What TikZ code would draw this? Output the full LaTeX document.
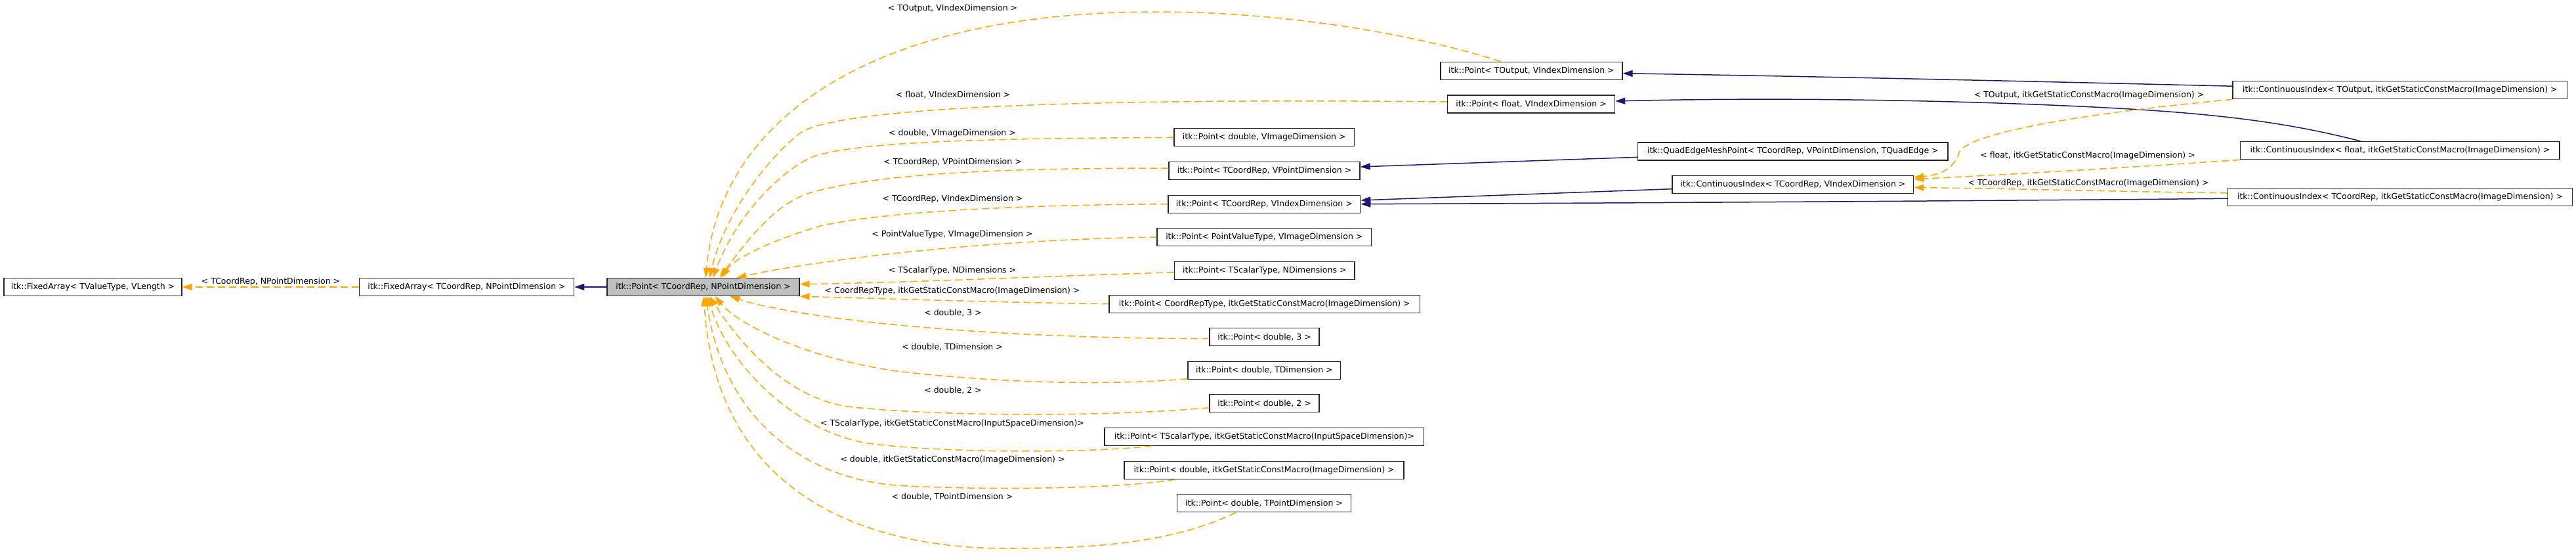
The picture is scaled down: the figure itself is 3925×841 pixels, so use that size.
\documentclass[tikz,border=0pt]{standalone}
\usepackage{fontspec}
\setmainfont{DejaVu Sans}
\usetikzlibrary{arrows.meta}
\definecolor{dorange}{HTML}{FFA500}
\definecolor{dnavy}{HTML}{191970}
\definecolor{mainfill}{HTML}{BFBFBF}
\begin{document}
\begin{tikzpicture}[x=1pt,y=-1pt,
  cls/.style={draw=black!85, line width=1.3pt, fill=white, minimum height=27pt, inner sep=0pt, font=\fontsize{12.5}{15}\selectfont},
  lbl/.style={inner sep=0pt, font=\fontsize{12.5}{15}\selectfont},
  dep/.style={draw=dorange, line width=1.5pt, dash pattern=on 11pt off 6pt, -{Triangle[length=15pt,width=10pt]}},
  inh/.style={draw=dnavy, line width=1.5pt, -{Triangle[length=15pt,width=10pt]}}]
\useasboundingbox (0,0) rectangle (3925,841);
% nodes
\node[cls, minimum width=271pt] (fa1) at (141.5,437) {itk::FixedArray< TValueType, VLength >};
\node[cls, minimum width=327.5pt] (fa2) at (711,437) {itk::FixedArray< TCoordRep, NPointDimension >};
\node[cls, fill=mainfill, minimum width=293pt] (main) at (1071.5,437) {itk::Point< TCoordRep, NPointDimension >};
\node[cls, minimum width=277pt] (pTOut) at (2333.4,107.7) {itk::Point< TOutput, VIndexDimension >};
\node[cls, minimum width=255pt] (pFloat) at (2333,158.5) {itk::Point< float, VIndexDimension >};
\node[cls, minimum width=274.5pt] (pDblImg) at (1926.2,209.2) {itk::Point< double, VImageDimension >};
\node[cls, minimum width=291pt] (pCRPoint) at (1926.5,260) {itk::Point< TCoordRep, VPointDimension >};
\node[cls, minimum width=292.7pt] (pCRIndex) at (1926.3,310.7) {itk::Point< TCoordRep, VIndexDimension >};
\node[cls, minimum width=326.5pt] (pPVT) at (1926.3,361) {itk::Point< PointValueType, VImageDimension >};
\node[cls, minimum width=274.4pt] (pTSN) at (1926.8,411.8) {itk::Point< TScalarType, NDimensions >};
\node[cls, minimum width=473.5pt] (pCRT) at (1926.7,462.7) {itk::Point< CoordRepType, itkGetStaticConstMacro(ImageDimension) >};
\node[cls, minimum width=167pt] (pD3) at (1926.5,513.2) {itk::Point< double, 3 >};
\node[cls, minimum width=232.8pt] (pDTD) at (1926.4,563.7) {itk::Point< double, TDimension >};
\node[cls, minimum width=167pt] (pD2) at (1926.5,614.3) {itk::Point< double, 2 >};
\node[cls, minimum width=486.8pt] (pTSI) at (1926.4,665) {itk::Point< TScalarType, itkGetStaticConstMacro(InputSpaceDimension)>};
\node[cls, minimum width=426pt] (pDID) at (1926,716) {itk::Point< double, itkGetStaticConstMacro(ImageDimension) >};
\node[cls, minimum width=264.5pt] (pDTP) at (1926,766.3) {itk::Point< double, TPointDimension >};
\node[cls, minimum width=472.5pt] (qe) at (2731.8,230.5) {itk::QuadEdgeMeshPoint< TCoordRep, VPointDimension, TQuadEdge >};
\node[cls, minimum width=367.7pt] (ciCRIdx) at (2731.9,281) {itk::ContinuousIndex< TCoordRep, VIndexDimension >};
\node[cls, minimum width=509.8pt] (ciTOut) at (3656.9,137.2) {itk::ContinuousIndex< TOutput, itkGetStaticConstMacro(ImageDimension) >};
\node[cls, minimum width=486.3pt] (ciFloat) at (3656.9,229.2) {itk::ContinuousIndex< float, itkGetStaticConstMacro(ImageDimension) >};
\node[cls, minimum width=525pt] (ciCR) at (3657,299.7) {itk::ContinuousIndex< TCoordRep, itkGetStaticConstMacro(ImageDimension) >};
% labels
\node[lbl] (l0) at (412.5,429) {< TCoordRep, NPointDimension >};
\node[lbl] (l1) at (1451.5,13) {< TOutput, VIndexDimension >};
\node[lbl] (l2) at (1452,144) {< float, VIndexDimension >};
\node[lbl] (l3) at (1451,203) {< double, VImageDimension >};
\node[lbl] (l4) at (1451.5,247) {< TCoordRep, VPointDimension >};
\node[lbl] (l5) at (1451.5,303) {< TCoordRep, VIndexDimension >};
\node[lbl] (l6) at (1451,357) {< PointValueType, VImageDimension >};
\node[lbl] (l7) at (1451,412) {< TScalarType, NDimensions >};
\node[lbl] (l8) at (1451,443) {< CoordRepType, itkGetStaticConstMacro(ImageDimension) >};
\node[lbl] (l9) at (1452,476) {< double, 3 >};
\node[lbl] (l10) at (1451,528) {< double, TDimension >};
\node[lbl] (l11) at (1452,594) {< double, 2 >};
\node[lbl] (l12) at (1451,645) {< TScalarType, itkGetStaticConstMacro(InputSpaceDimension)>};
\node[lbl] (l13) at (1451.5,700) {< double, itkGetStaticConstMacro(ImageDimension) >};
\node[lbl] (l14) at (1451,756) {< double, TPointDimension >};
\node[lbl] (lr1) at (3183,145) {< TOutput, itkGetStaticConstMacro(ImageDimension) >};
\node[lbl] (lr2) at (3181,237) {< float, itkGetStaticConstMacro(ImageDimension) >};
\node[lbl] (lr3) at (3182,279) {< TCoordRep, itkGetStaticConstMacro(ImageDimension) >};
% left edges
\draw[inh] (main.west) -- (fa2.east);
\draw[dep] (fa2.west) -- (fa1.east);
% edges into main
\draw[dep] ([xshift=92pt]pTOut.north west) .. controls (2150,50) and (1950,18) .. (1763,18) .. controls (1300,18) and (1095,200) .. ([xshift=151pt]main.north west);
\draw[dep] ([yshift=3.5pt]pFloat.west) .. controls (1700,150) and (1300,160) .. (1223,200) .. controls (1180,230) and (1105,320) .. ([xshift=157pt]main.north west);
\draw[dep] (pDblImg.west) .. controls (1500,211) and (1320,215) .. (1243,237) .. controls (1200,252) and (1125,320) .. ([xshift=162pt]main.north west);
\draw[dep] ([yshift=4pt]pCRPoint.west) .. controls (1550,256) and (1350,262) .. (1240,292) .. controls (1190,305) and (1150,350) .. ([xshift=172pt]main.north west);
\draw[dep] (pCRIndex.west) .. controls (1550,312) and (1350,322) .. (1250,344) .. controls (1195,360) and (1120,390) .. ([xshift=176pt]main.north west);
\draw[dep] (pPVT.west) .. controls (1500,365) and (1250,395) .. ([xshift=198pt]main.north west);
\draw[dep] ([yshift=-3pt]pTSN.west) .. controls (1600,420) and (1400,430) .. ([yshift=4.3pt]main.east);
\draw[dep] (pCRT.west) .. controls (1550,461) and (1350,455) .. (main.south east);
\draw[dep] ([yshift=-2.5pt]pD3.west) .. controls (1450,515) and (1200,480) .. ([xshift=188pt]main.south west);
\draw[dep] ([yshift=1pt]pDTD.south west) .. controls (1700,586) and (1550,585) .. (1383,567) .. controls (1250,552) and (1130,500) .. ([xshift=165pt]main.south west);
\draw[dep] ([yshift=-6.4pt]pD2.west) .. controls (1700,634) and (1450,635) .. (1300,620) .. controls (1200,610) and (1125,520) .. ([xshift=157pt]main.south west);
\draw[dep] ([xshift=73pt]pTSI.south west) .. controls (1650,690) and (1450,690) .. (1330,676) .. controls (1220,663) and (1110,560) .. ([xshift=154pt]main.south west);
\draw[dep] ([xshift=78pt]pDID.south west) .. controls (1700,745) and (1500,746) .. (1383,740) .. controls (1240,735) and (1105,650) .. ([xshift=151pt]main.south west);
\draw[dep] ([xshift=90pt]pDTP.south west) .. controls (1780,830) and (1650,835) .. (1535,835) .. controls (1300,835) and (1090,740) .. ([xshift=148pt]main.south west);
% right side edges
\draw[inh] ([yshift=6pt]ciTOut.west) .. controls (3100,124) and (2800,117) .. ([yshift=-4pt]pTOut.east);
\draw[inh] ([xshift=184pt]ciFloat.north west) .. controls (3500,190) and (3400,175) .. (3240,165.7) .. controls (3000,152) and (2700,148) .. ([yshift=4.5pt]pFloat.east);
\draw[dep] (ciTOut.south west) .. controls (3200,170) and (3000,200) .. (2985,232) .. controls (2978,255) and (2960,266) .. ([yshift=-3pt]ciCRIdx.north east);
\draw[dep] (ciFloat.south west) .. controls (3200,258) and (3050,266) .. ([yshift=-6pt]ciCRIdx.north east);
\draw[dep] ([yshift=5.7pt]ciCR.west) .. controls (3200,291) and (3050,287) .. ([yshift=-4.5pt]ciCRIdx.east);
\draw[inh] ([yshift=-2.6pt]ciCR.west) .. controls (3000,306) and (2500,309) .. (pCRIndex.east);
\draw[inh] ([yshift=-6.7pt]ciCRIdx.west) -- ([yshift=5.7pt]pCRIndex.east);
\draw[inh] ([yshift=-8.8pt]qe.west) -- ([yshift=6pt]pCRPoint.east);
\end{tikzpicture}
\end{document}
